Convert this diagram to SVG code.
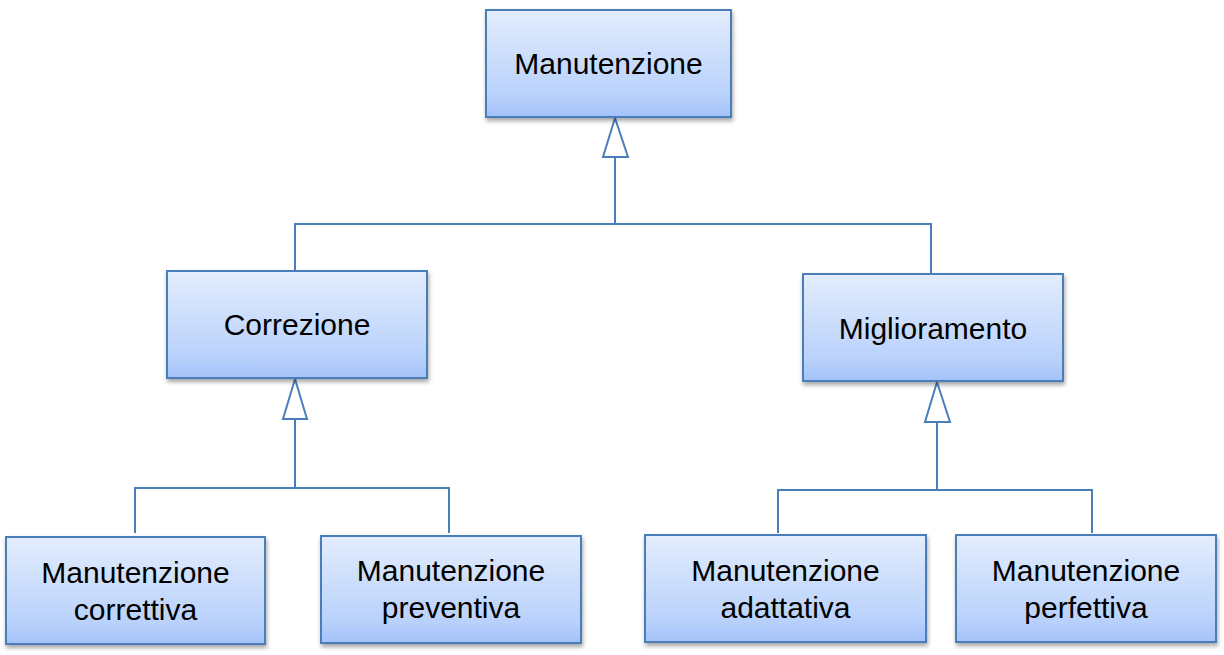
<svg xmlns="http://www.w3.org/2000/svg" width="1224" height="655" viewBox="0 0 1224 655">
<defs>
<linearGradient id="g" x1="0" y1="0" x2="0" y2="1">
<stop offset="0" stop-color="#e3edfd"/>
<stop offset="0.8" stop-color="#b9d1fb"/>
<stop offset="1" stop-color="#a3c2fa"/>
</linearGradient>
<filter id="sh" x="-10%" y="-10%" width="130%" height="140%">
<feDropShadow dx="1" dy="3" stdDeviation="2" flood-color="#000" flood-opacity="0.35"/>
</filter>
</defs>
<style>
.box{fill:url(#g);stroke:#4a7ebb;stroke-width:2;filter:url(#sh)}
.t{font-family:"Liberation Sans",Arial,sans-serif;font-size:30px;fill:#000;text-anchor:middle}
.c{fill:none;stroke:#4a7ebb;stroke-width:2}
.tri{fill:#fff;stroke:#4a7ebb;stroke-width:2}
</style>
<g id="connectors">
<path class="c" d="M615,157 V224 M295,271 V224 H931 V274"/>
<polygon class="tri" points="615,118 603,157 628,157"/>
<path class="c" d="M295,419 V488 M135,533 V488 H449 V533"/>
<polygon class="tri" points="295,379 283,419 307,419"/>
<path class="c" d="M937,422 V490 M778,533 V490 H1092 V533"/>
<polygon class="tri" points="937,382 925,422 950,422"/>
</g>
<g id="manutenzione">
<rect class="box" x="486" y="10" width="245" height="107"/>
<text class="t" x="608.5" y="74">Manutenzione</text>
</g>
<g id="correzione">
<rect class="box" x="167" y="271" width="260" height="107"/>
<text class="t" x="297" y="335">Correzione</text>
</g>
<g id="miglioramento">
<rect class="box" x="803" y="274" width="260" height="107"/>
<text class="t" x="933" y="339">Miglioramento</text>
</g>
<g id="correttiva">
<rect class="box" x="6" y="537" width="259" height="107"/>
<text class="t" x="135.5" y="583">Manutenzione</text>
<text class="t" x="135.5" y="620">correttiva</text>
</g>
<g id="preventiva">
<rect class="box" x="321" y="536" width="260" height="107"/>
<text class="t" x="451" y="581">Manutenzione</text>
<text class="t" x="451" y="618">preventiva</text>
</g>
<g id="adattativa">
<rect class="box" x="645" y="535" width="281" height="107"/>
<text class="t" x="785.5" y="581">Manutenzione</text>
<text class="t" x="785.5" y="618">adattativa</text>
</g>
<g id="perfettiva">
<rect class="box" x="956" y="535" width="260" height="107"/>
<text class="t" x="1086" y="581">Manutenzione</text>
<text class="t" x="1086" y="618">perfettiva</text>
</g>
</svg>
